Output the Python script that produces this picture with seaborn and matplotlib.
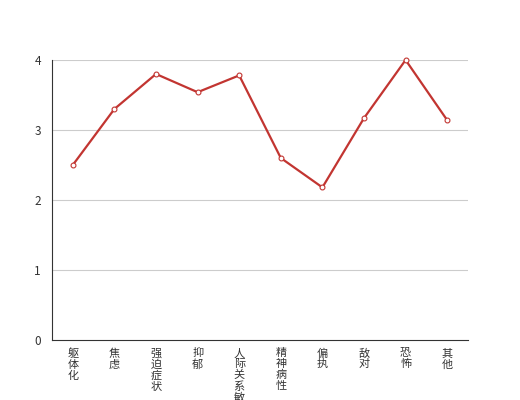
import numpy as np
import pandas as pd
import matplotlib
matplotlib.use("Agg")
import matplotlib.pyplot as plt
import seaborn as sns

categories = ["躯体化", "焦虑", "强迫症状", "抑郁", "人际关系敏感",
              "精神病性", "偏执", "敌对", "恐怖", "其他"]
scores = [2.50, 3.30, 3.80, 3.54, 3.78, 2.60, 2.18, 3.17, 4.00, 3.14]
y_ticks = [0, 1, 2, 3, 4]

sns.set_style("white")
plt.rcParams['font.family'] = ['Noto Sans CJK SC', 'DejaVu Sans']

df = pd.DataFrame({"cat": categories, "score": scores})

fig = plt.figure(figsize=(5.2, 4.0), dpi=100)
ax = fig.add_axes([52 / 520, 60 / 400, 416 / 520, 280 / 400])

sns.lineplot(data=df, x="cat", y="score", ax=ax, color="#c23531",
             linewidth=1.6, marker="o", markersize=3.5,
             markerfacecolor="white", markeredgecolor="#c23531",
             markeredgewidth=0.8, sort=False, zorder=3)
for ln in ax.lines:
    ln.set_clip_on(False)

ax.set_xlim(-0.5, len(categories) - 0.5)
ax.set_ylim(0, 4)
ax.set_yticks(y_ticks)
ax.set_yticklabels([str(v) for v in y_ticks])
for v in y_ticks[1:]:
    ax.axhline(v, color="#cccccc", linewidth=0.8, zorder=0)

# ticks on category boundaries, labels at centers
ax.set_xticks(np.arange(len(categories) + 1) - 0.5)
ax.set_xticklabels([])
ax.set_xticks(np.arange(len(categories)), minor=True)
ax.set_xticklabels(["\n".join(c) for c in categories], minor=True,
                   fontsize=8, color="#333333", linespacing=1.1, va="top")
ax.tick_params(axis="x", which="major", length=5, width=0.8, color="#333333", direction="out")
ax.tick_params(axis="x", which="minor", length=0, pad=6)
ax.tick_params(axis="y", length=5, width=0.8, color="#333333", direction="out",
               labelsize=8.5, labelcolor="#333333", pad=3)

ax.set_xlabel("")
ax.set_ylabel("")
for s in ["top", "right"]:
    ax.spines[s].set_visible(False)
for s in ["left", "bottom"]:
    ax.spines[s].set_color("#333333")
    ax.spines[s].set_linewidth(0.8)

fig.savefig("out.png", dpi=100)
